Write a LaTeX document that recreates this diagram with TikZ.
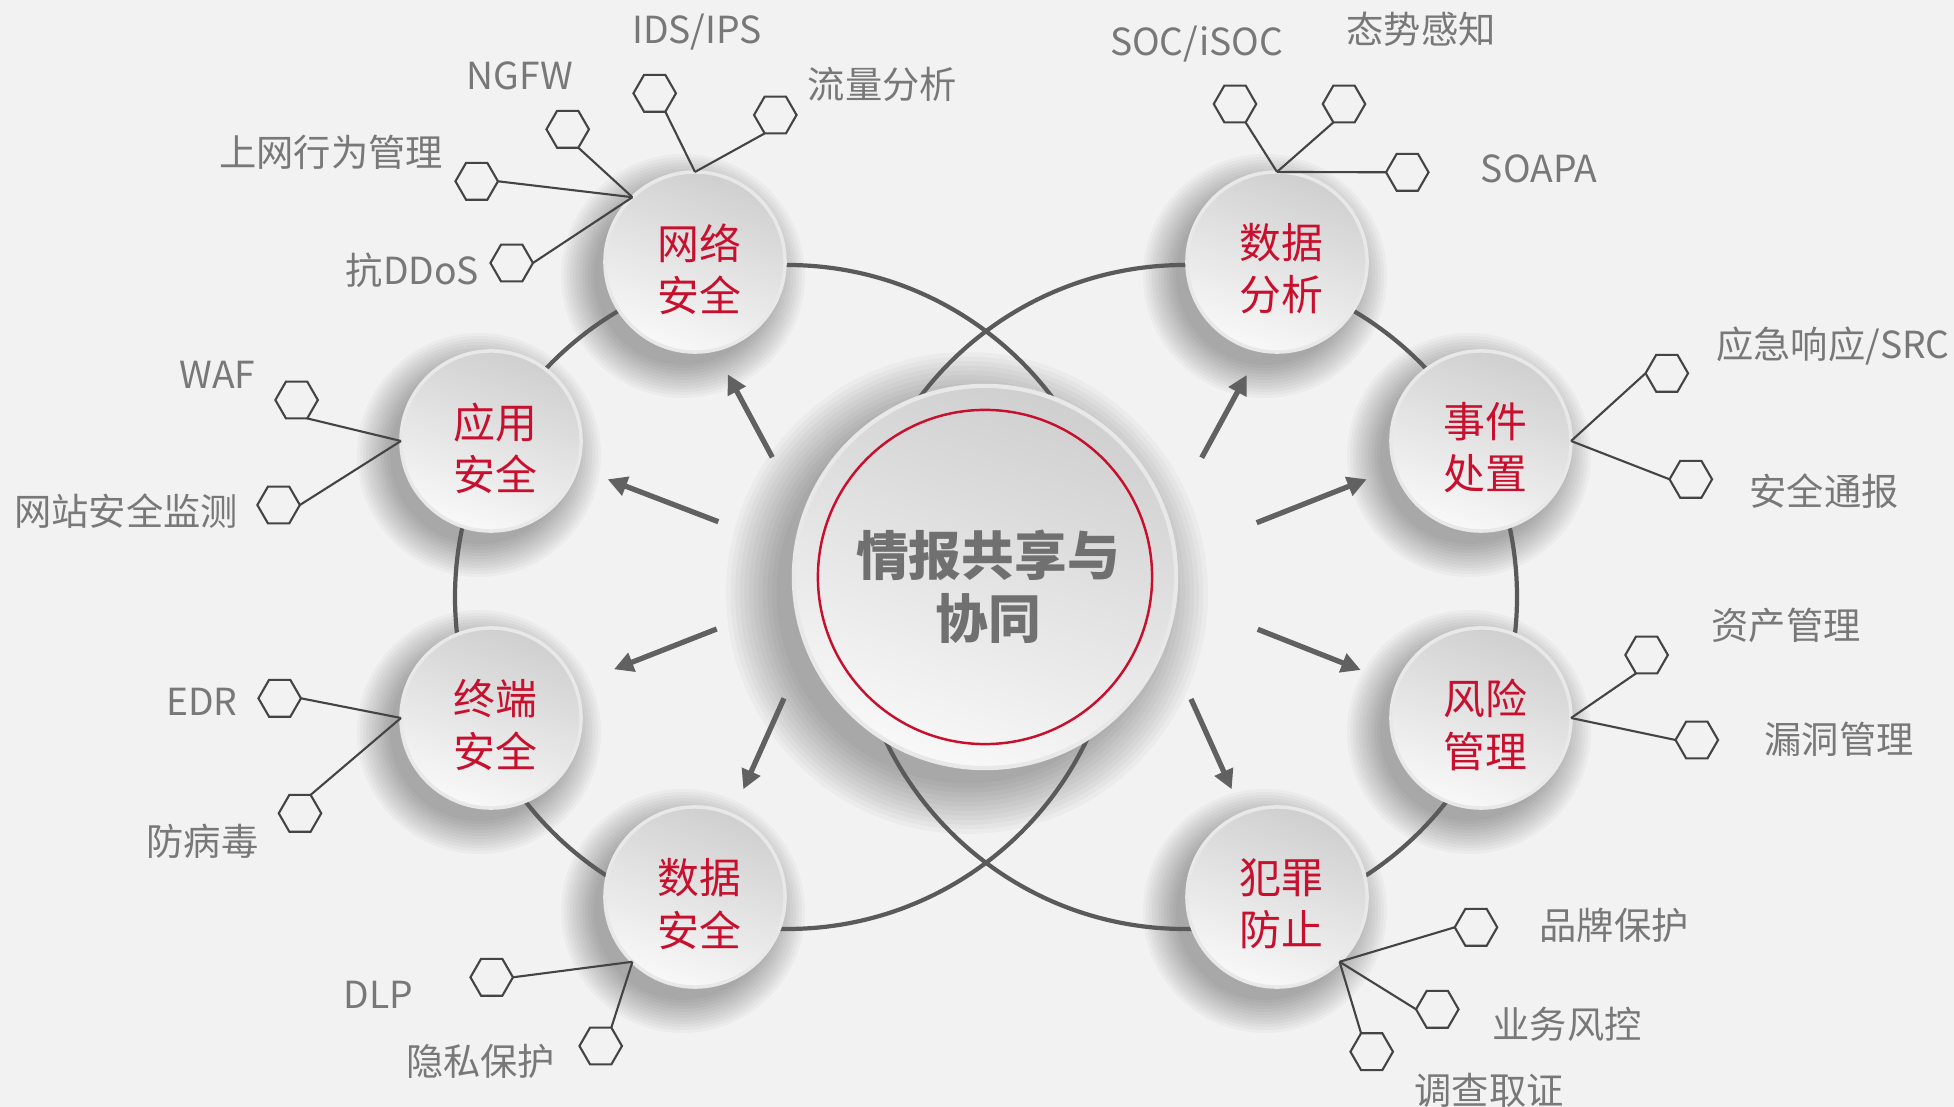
\documentclass[tikz,border=0pt]{standalone}
\usepackage{fontspec}
\setmainfont{Noto Sans CJK SC}
\usetikzlibrary{shapes.geometric,arrows.meta}
\definecolor{bgc}{HTML}{F2F2F2}
\definecolor{ringc}{HTML}{5A5A5A}
\definecolor{hexc}{HTML}{444444}
\definecolor{arrc}{HTML}{616161}
\definecolor{lblc}{HTML}{787878}
\definecolor{redc}{HTML}{C8102E}
\definecolor{ctrtxt}{HTML}{707070}
\definecolor{ctop}{HTML}{CFCFCF}
\definecolor{cbot}{HTML}{F8F8F8}
\definecolor{rimc}{HTML}{E8E8E8}
\pgfdeclarelayer{bgl}
\pgfdeclarelayer{ringl}
\pgfsetlayers{bgl,ringl,main}
\newcommand\mkshadow[4]{\foreach \k in {1,...,12}{\fill[black,opacity=0.028] (#1,#2) circle[radius={#3+#4*\k/12}];}}
\begin{document}
\begin{tikzpicture}[x=0.01cm,y=-0.01cm,
 ball/.style={circle, minimum size=1.8cm, inner sep=0, outer sep=0, top color=ctop, bottom color=cbot, shading angle=-20, draw=rimc, line width=1pt},
 balltext/.style={text=redc, font=\fontsize{11.9}{14.8}\selectfont, align=center, inner sep=0},
 hexa/.style={regular polygon, regular polygon sides=6, minimum size=0.425cm, inner sep=0, outer sep=0, draw=hexc, line width=0.6pt},
 branch/.style={draw=hexc, line width=0.6pt},
 lbl/.style={text=lblc, font=\fontsize{10.6}{12}\selectfont, inner sep=0, text height=8pt, text depth=0pt},
 ring/.style={draw=ringc, line width=1.2pt},
 arr/.style={draw=arrc, line width=1.5pt, -{Triangle[length=5.5pt,width=5.5pt]}}]
\begin{pgfonlayer}{bgl}
\fill[bgc] (0,0) rectangle (1954,1107);
\mkshadow{967}{593}{186}{55}
\mkshadow{683}{276}{86}{36}
\mkshadow{479}{455}{86}{36}
\mkshadow{479}{732}{86}{36}
\mkshadow{683}{911}{86}{36}
\mkshadow{1265}{276}{86}{36}
\mkshadow{1469}{455}{86}{36}
\mkshadow{1469}{732}{86}{36}
\mkshadow{1265}{911}{86}{36}
\end{pgfonlayer}
\useasboundingbox (0,0) rectangle (1954,1107);
\begin{pgfonlayer}{ringl}
\draw[ring] (787,597) circle[radius=332];
\draw[ring] (1185,597) circle[radius=332];
\end{pgfonlayer}
% central
\node[ball, minimum size=3.82cm, line width=1.2pt] (ctr) at (985,577) {};
\node[circle, draw=redc, line width=0.7pt, minimum size=3.34cm, inner sep=0] (ctrring) at (ctr.center) {};
\node[text=ctrtxt, font=\bfseries\fontsize{15}{17.9}\selectfont, align=center, inner sep=0] (ctrtext) at (988,587) {情报共享与\\协同};
% satellites
\node[ball] (A) at (695,262) {};
\node[ball] (B) at (491,441) {};
\node[ball] (C) at (491,718) {};
\node[ball] (D) at (695,897) {};
\node[ball] (E) at (1277,262) {};
\node[ball] (F) at (1481,441) {};
\node[ball] (G) at (1481,718) {};
\node[ball] (H) at (1277,897) {};
\node[balltext] (At) at (699,269) {网络\\安全};
\node[balltext] (Bt) at (495,448) {应用\\安全};
\node[balltext] (Ct) at (495,725) {终端\\安全};
\node[balltext] (Dt) at (699,904) {数据\\安全};
\node[balltext] (Et) at (1281,269) {数据\\分析};
\node[balltext] (Ft) at (1485,448) {事件\\处置};
\node[balltext] (Gt) at (1485,725) {风险\\管理};
\node[balltext] (Ht) at (1281,904) {犯罪\\防止};
% arrows
\coordinate (a1s) at (772.3,457.3); \coordinate (a1e) at (727.7,374.3);
\coordinate (a2s) at (718.3,521.7); \coordinate (a2e) at (607.7,479.3);
\coordinate (a3s) at (716.7,629);   \coordinate (a3e) at (614,669.3);
\coordinate (a4s) at (784,698.3);   \coordinate (a4e) at (743.3,789.3);
\coordinate (a5s) at (1201.7,457.7); \coordinate (a5e) at (1246.7,375);
\coordinate (a6s) at (1256.7,522.7); \coordinate (a6e) at (1366.7,479.3);
\coordinate (a7s) at (1257.7,629.3); \coordinate (a7e) at (1360.7,670);
\coordinate (a8s) at (1191,699);     \coordinate (a8e) at (1231.7,789.3);
\foreach \i in {1,...,8}{\draw[arr] (a\i s) -- (a\i e);}
% hexagons
\node[hexa] (hIDS) at (654.7,93.3) {};
\node[hexa] (hLL) at (775.3,115) {};
\node[hexa] (hNGFW) at (567.7,129.3) {};
\node[hexa] (hSW) at (476.7,181.3) {};
\node[hexa] (hDDoS) at (511.7,263) {};
\node[hexa] (hWAF) at (296.6,400) {};
\node[hexa] (hWeb) at (278.6,505) {};
\node[hexa] (hEDR) at (279.7,698.3) {};
\node[hexa] (hAV) at (300,813.3) {};
\node[hexa] (hDLP) at (491.7,977.3) {};
\node[hexa] (hPriv) at (600.7,1046) {};
\node[hexa] (hSOC) at (1235,104) {};
\node[hexa] (hTS) at (1344,104) {};
\node[hexa] (hSOAPA) at (1407.3,172.3) {};
\node[hexa] (hER) at (1666.8,373.3) {};
\node[hexa] (hTB) at (1690.8,479.3) {};
\node[hexa] (hZC) at (1646.6,655) {};
\node[hexa] (hLD) at (1696.8,740) {};
\node[hexa] (hPP) at (1476,927.3) {};
\node[hexa] (hYW) at (1437.3,1009.3) {};
\node[hexa] (hDC) at (1371.7,1051.7) {};
% branches
\draw[branch] (A.90) -- (hIDS.300);
\draw[branch] (A.90) -- (hLL.240);
\draw[branch] (A.134) -- (hNGFW.300);
\draw[branch] (A.134) -- (hSW.0);
\draw[branch] (A.134) -- (hDDoS.0);
\draw[branch] (B.180) -- (hWAF.300);
\draw[branch] (B.180) -- (hWeb.0);
\draw[branch] (C.180) -- (hEDR.0);
\draw[branch] (C.180) -- (hAV.60);
\draw[branch] (D.226) -- (hDLP.0);
\draw[branch] (D.226) -- (hPriv.60);
\draw[branch] (E.90) -- (hSOC.300);
\draw[branch] (E.90) -- (hTS.240);
\draw[branch] (E.90) -- (hSOAPA.180);
\draw[branch] (F.0) -- (hER.180);
\draw[branch] (F.0) -- (hTB.180);
\draw[branch] (G.0) -- (hZC.240);
\draw[branch] (G.0) -- (hLD.180);
\draw[branch] (H.314) -- (hPP.180);
\draw[branch] (H.314) -- (hYW.180);
\draw[branch] (H.314) -- (hDC.120);
% labels
\node[lbl] (tIDS) at (697,29.5) {IDS/IPS};
\node[lbl] (tLL) at (882.5,84) {流量分析};
\node[lbl] (tNGFW) at (520,75) {NGFW};
\node[lbl] (tSW) at (331,152.5) {上网行为管理};
\node[lbl] (tDDoS) at (412.5,270.5) {抗DDoS};
\node[lbl] (tWAF) at (217.5,374.5) {WAF};
\node[lbl] (tWeb) at (126,511.5) {网站安全监测};
\node[lbl] (tEDR) at (201.7,701) {EDR};
\node[lbl] (tAV) at (202.5,841.7) {防病毒};
\node[lbl] (tDLP) at (378.3,994) {DLP};
\node[lbl] (tPriv) at (480.7,1061.7) {隐私保护};
\node[lbl] (tSOC) at (1196.7,41) {SOC/iSOC};
\node[lbl] (tTS) at (1421,29) {态势感知};
\node[lbl] (tSOAPA) at (1539,168) {SOAPA};
\node[lbl] (tER) at (1833,344) {应急响应/SRC};
\node[lbl] (tTB) at (1824,491.7) {安全通报};
\node[lbl] (tZC) at (1786,625.8) {资产管理};
\node[lbl] (tLD) at (1839,739) {漏洞管理};
\node[lbl] (tPP) at (1614,925.7) {品牌保护};
\node[lbl] (tYW) at (1567,1024) {业务风控};
\node[lbl] (tDC) at (1489,1090) {调查取证};
\end{tikzpicture}
\end{document}
